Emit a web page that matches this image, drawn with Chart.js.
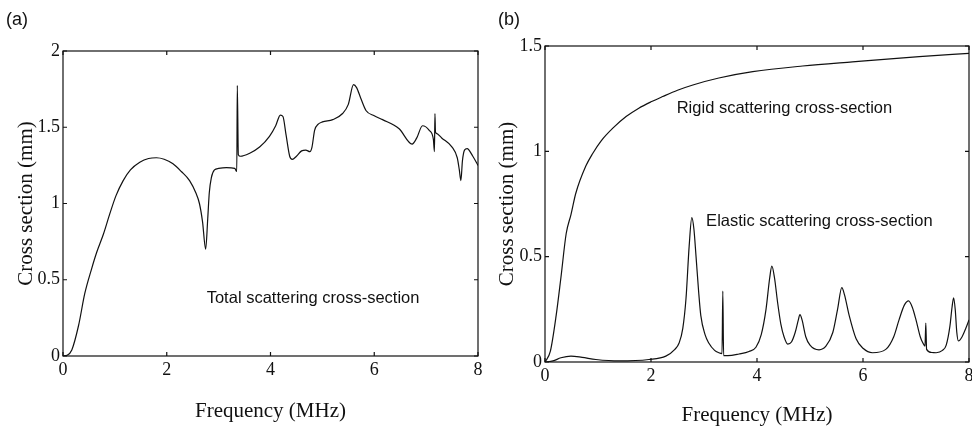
<!DOCTYPE html>
<html>
<head>
<meta charset="utf-8">
<script src="https://cdn.jsdelivr.net/npm/chart.js@4.4.1/dist/chart.umd.min.js"></script>
<style>
  body{margin:0;background:#fff;width:972px;height:432px;overflow:hidden;}
  .panel{position:absolute;top:0;width:486px;height:432px;}
</style>
</head>
<body>
<div class="panel" style="left:0"><canvas id="chartA" width="486" height="432"></canvas></div>
<div class="panel" style="left:486px"><canvas id="chartB" width="486" height="432"></canvas></div>
<script>
// (a) total scattering cross-section
let freqTotal=[0,0.08,0.17,0.3,0.42,0.55,0.65,0.78,0.9,1.02,1.16,1.3,1.48,1.65,1.8,1.95,2.12,2.28,2.44,2.56,2.63,2.69,2.75,2.79,2.82,2.86,2.92,3.0,3.15,3.31,3.35,3.36,3.38,3.42,3.6,3.79,3.98,4.1,4.19,4.24,4.3,4.37,4.42,4.5,4.6,4.68,4.76,4.8,4.85,4.92,5.0,5.2,5.39,5.5,5.6,5.66,5.74,5.84,6.0,6.16,6.48,6.73,6.82,6.93,7.06,7.14,7.16,7.17,7.18,7.2,7.3,7.5,7.6,7.64,7.67,7.7,7.74,7.79,7.9,8.0];
let total=[0,0.005,0.04,0.2,0.41,0.57,0.68,0.8,0.93,1.05,1.15,1.22,1.27,1.295,1.3,1.29,1.26,1.21,1.15,1.07,1.0,0.88,0.70,0.9,1.07,1.17,1.22,1.23,1.235,1.23,1.21,1.775,1.32,1.31,1.33,1.37,1.44,1.51,1.58,1.57,1.45,1.31,1.29,1.31,1.345,1.35,1.34,1.37,1.48,1.52,1.535,1.55,1.59,1.65,1.78,1.76,1.69,1.61,1.575,1.55,1.49,1.39,1.43,1.51,1.48,1.42,1.34,1.59,1.47,1.46,1.43,1.37,1.3,1.22,1.15,1.28,1.35,1.36,1.31,1.25];

// (b) rigid and elastic cross-sections
let freqRigid=[0,0.1,0.21,0.3,0.4,0.49,0.58,0.77,0.9,1.06,1.28,1.53,1.77,2.0,2.22,2.5,2.79,3.28,3.92,4.86,5.8,7.06,8.0];
let rigid=[0,0.05,0.22,0.4,0.61,0.7,0.8,0.93,0.99,1.05,1.11,1.165,1.205,1.235,1.26,1.29,1.315,1.348,1.378,1.405,1.425,1.45,1.465];

let freqElastic=[0,0.15,0.3,0.49,0.7,0.96,1.4,1.96,2.28,2.45,2.53,2.6,2.66,2.72,2.77,2.81,2.85,2.9,2.94,3.02,3.09,3.2,3.28,3.34,3.355,3.37,3.45,3.66,3.85,3.98,4.08,4.17,4.24,4.28,4.33,4.39,4.45,4.51,4.58,4.65,4.72,4.78,4.81,4.85,4.92,5.0,5.17,5.3,5.43,5.52,5.6,5.65,5.74,5.87,6.0,6.18,6.43,6.58,6.68,6.78,6.86,6.93,7.0,7.08,7.13,7.17,7.185,7.2,7.3,7.38,7.5,7.57,7.64,7.68,7.71,7.74,7.77,7.8,7.87,7.94,8.0];
let elastic=[0,0.005,0.02,0.028,0.022,0.012,0.005,0.012,0.028,0.06,0.09,0.16,0.3,0.55,0.685,0.63,0.5,0.33,0.22,0.13,0.09,0.055,0.044,0.04,0.337,0.03,0.03,0.038,0.05,0.07,0.13,0.25,0.4,0.455,0.4,0.28,0.18,0.12,0.085,0.095,0.14,0.2,0.225,0.2,0.12,0.08,0.058,0.075,0.14,0.25,0.353,0.32,0.22,0.11,0.065,0.044,0.06,0.12,0.2,0.27,0.29,0.26,0.2,0.12,0.09,0.075,0.185,0.06,0.045,0.044,0.055,0.08,0.17,0.26,0.305,0.25,0.14,0.1,0.12,0.16,0.2];

let xTicks=[0,2,4,6,8];
let yTicksA=[0,0.5,1,1.5,2];
let yTicksB=[0,0.5,1,1.5];

// text labels placed in data units
let notesA=[{text:"Total scattering cross-section",x:2.77,y:0.348}];
let notesB=[{text:"Rigid scattering cross-section",x:2.485,y:1.182},{text:"Elastic scattering cross-section",x:3.04,y:0.647}];

function pts(xs,ys){return xs.map((x,i)=>({x:x,y:ys[i]}));}

let serif="'Liberation Serif','Times New Roman',serif";
let sans="'Liberation Sans',Arial,sans-serif";
let ink="#111";

function boxPlugin(tag,notes,yVals){
  return {
    id:"box"+tag,
    afterDatasetsDraw(chart){
      let c=chart.ctx, a=chart.chartArea, sx=chart.scales.x, sy=chart.scales.y;
      c.save();
      c.strokeStyle=ink; c.lineWidth=1.2;
      c.strokeRect(a.left,a.top,a.right-a.left,a.bottom-a.top);
      c.beginPath();
      xTicks.forEach(v=>{
        let p=sx.getPixelForValue(v);
        c.moveTo(p,a.bottom); c.lineTo(p,a.bottom-4);
        c.moveTo(p,a.top); c.lineTo(p,a.top+4);
      });
      yVals.forEach(v=>{
        let p=sy.getPixelForValue(v);
        c.moveTo(a.left,p); c.lineTo(a.left+4,p);
        c.moveTo(a.right,p); c.lineTo(a.right-4,p);
      });
      c.stroke();
      c.fillStyle=ink;
      c.font="16.5px "+sans;
      c.textBaseline="alphabetic";
      notes.forEach(n=>{
        c.fillText(n.text,sx.getPixelForValue(n.x),sy.getPixelForValue(n.y));
      });
      c.font="18px "+sans;
      c.fillText(tag,tag==="(a)"?6:12,25);
      c.restore();
    }
  };
}

function makeChart(id,datasets,yMax,yVals,pad,yW,xH,titlePadY,titlePadX,plugin){
  return new Chart(document.getElementById(id),{
    type:"line",
    data:{datasets:datasets},
    options:{
      responsive:false,
      animation:false,
      devicePixelRatio:1,
      layout:{padding:pad},
      plugins:{legend:{display:false},tooltip:{enabled:false}},
      elements:{point:{radius:0},line:{borderWidth:1.2,cubicInterpolationMode:"monotone"}},
      scales:{
        x:{
          type:"linear",min:0,max:8,
          grid:{display:false,drawTicks:false},
          border:{display:false},
          afterBuildTicks(s){s.ticks=xTicks.map(v=>({value:v}));},
          afterFit(s){s.height=xH;s.paddingLeft=0;s.paddingRight=0;},
          ticks:{color:ink,font:{family:serif,size:18},padding:3,maxRotation:0,callback:v=>String(v)},
          title:{display:true,text:"Frequency (MHz)",color:ink,font:{family:serif,size:21},padding:{top:0,bottom:titlePadX}}
        },
        y:{
          type:"linear",min:0,max:yMax,
          grid:{display:false,drawTicks:false},
          border:{display:false},
          afterBuildTicks(s){s.ticks=yVals.map(v=>({value:v}));},
          afterFit(s){s.width=yW;},
          ticks:{color:ink,font:{family:serif,size:18},padding:3,callback:v=>String(v)},
          title:{display:true,text:"Cross section (mm)",color:ink,font:{family:serif,size:21},padding:{top:titlePadY,bottom:0}}
        }
      }
    },
    plugins:[plugin]
  });
}

makeChart("chartA",
  [{data:pts(freqTotal,total),borderColor:ink,fill:false}],
  2,yTicksA,{top:51,right:8,left:0,bottom:0},63,76,14,8,
  boxPlugin("(a)",notesA,yTicksA));

makeChart("chartB",
  [{data:pts(freqRigid,rigid),borderColor:ink,fill:false},
   {data:pts(freqElastic,elastic),borderColor:ink,fill:false}],
  1.5,yTicksB,{top:46,right:3,left:0,bottom:0},59,70,9,4,
  boxPlugin("(b)",notesB,yTicksB));
</script>
</body>
</html>
